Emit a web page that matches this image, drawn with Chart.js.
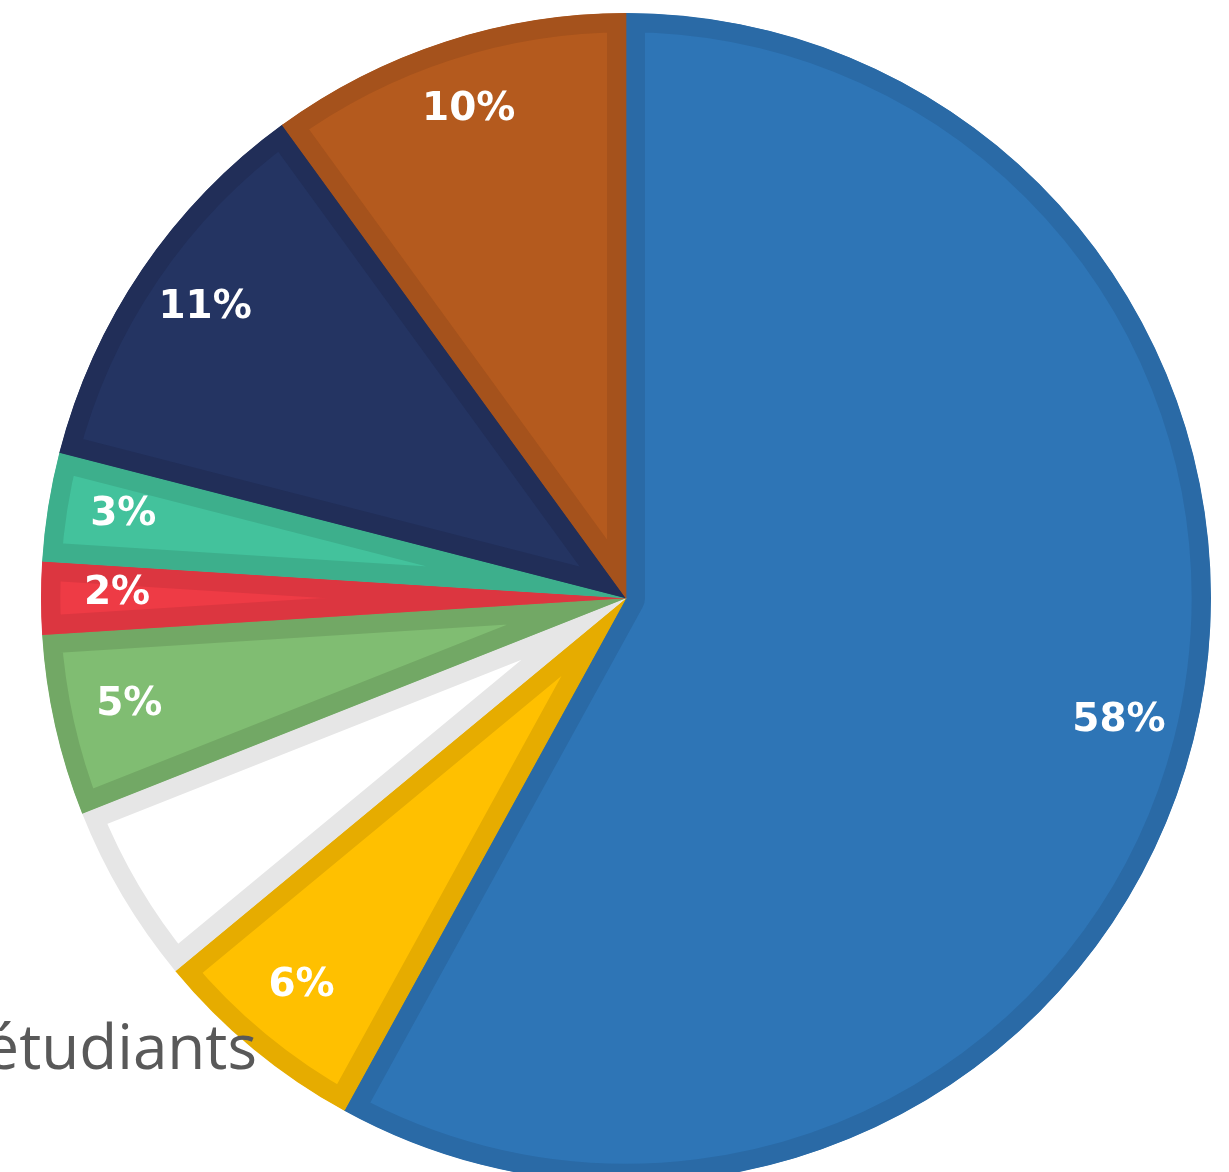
<!DOCTYPE html>
<html>
<head>
<meta charset="utf-8">
<script src="https://cdn.jsdelivr.net/npm/chart.js@4/dist/chart.umd.min.js"></script>
<style>
  html, body { margin: 0; padding: 0; background: #ffffff; overflow: hidden; width: 1229px; height: 1172px; }
  #wrap { position: absolute; left: 0; top: 0; width: 1252px; height: 1196px; }
</style>
</head>
<body>
<div id="wrap"><canvas id="c"></canvas></div>
<script>
// Data (clockwise from 12 o'clock)
const categories = ["Bleu", "Jaune", "Blanc", "Vert", "Rouge", "Turquoise", "Marine", "Orange"];
const values = [58, 6, 5, 5, 2, 3, 11, 10];
const labelTexts = ["58%", "6%", "", "5%", "2%", "3%", "11%", "10%"];
const sideText = "étudiants";

const fillColors = ["#2e75b6", "#ffc000", "#ffffff", "#80bd72", "#ee3b45", "#43c29c", "#243462", "#b45a1e"];
const borderColors = ["#2a6aa6", "#e6ac00", "#e6e6e6", "#72a865", "#dc3640", "#3daf8c", "#212e58", "#a5521c"];

const labelPlugin = {
  id: 'sliceLabels',
  afterDatasetsDraw(chart) {
    const ctx = chart.ctx;
    const meta = chart.getDatasetMeta(0);
    ctx.save();
    ctx.fillStyle = '#ffffff';
    ctx.font = 'bold 39px "DejaVu Sans"';
    ctx.textAlign = 'center';
    ctx.textBaseline = 'middle';
    meta.data.forEach((arc, i) => {
      const t = labelTexts[i];
      if (!t) return;
      const p = arc.getProps(['x', 'y', 'startAngle', 'endAngle', 'outerRadius'], true);
      const mid = (p.startAngle + p.endAngle) / 2;
      const d = p.outerRadius * 0.87;
      ctx.fillText(t, p.x + Math.cos(mid) * d, p.y + Math.sin(mid) * d - 4);
    });
    ctx.restore();
  },
  afterDraw(chart) {
    const ctx = chart.ctx;
    ctx.save();
    ctx.fillStyle = '#595959';
    ctx.font = '62px "Open Sans"';
    ctx.textAlign = 'right';
    ctx.textBaseline = 'alphabetic';
    ctx.fillText(sideText, 257, 1069);
    ctx.restore();
  }
};

new Chart(document.getElementById('c'), {
  type: 'pie',
  data: {
    labels: categories,
    datasets: [{
      data: values,
      backgroundColor: fillColors,
      borderColor: borderColors,
      borderWidth: 19,
      borderAlign: 'inner',
      hoverOffset: 0
    }]
  },
  options: {
    responsive: true,
    maintainAspectRatio: false,
    animation: false,
    events: [],
    layout: { padding: { top: 13, bottom: 13, left: 41, right: 41 } },
    plugins: {
      legend: { display: false },
      tooltip: { enabled: false },
      title: { display: false }
    }
  },
  plugins: [labelPlugin]
});
</script>
</body>
</html>
